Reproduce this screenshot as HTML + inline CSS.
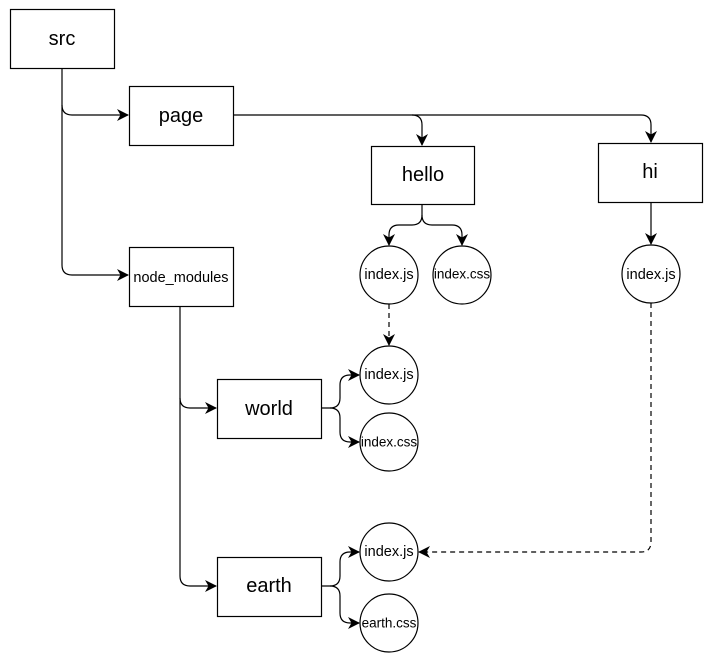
<!DOCTYPE html>
<html><head><meta charset="utf-8"><style>
html,body{margin:0;padding:0;background:#fff;}
svg{display:block;}
text{font-family:"Liberation Sans",Arial,sans-serif;fill:#000;text-anchor:middle;dominant-baseline:central;}
</style></head><body>
<svg width="714" height="664" viewBox="0 0 714 664" xmlns="http://www.w3.org/2000/svg">
<defs>
<marker id="a" markerWidth="12" markerHeight="12" refX="11" refY="6" orient="auto" markerUnits="userSpaceOnUse">
<path d="M0,0 L12,6 L0,12 L3.5,6 Z" fill="#000"/>
</marker>
</defs>
<g fill="none" stroke="#000" stroke-width="1.2">
<path d="M62 68 V105 Q62 115 72 115 H128" marker-end="url(#a)"/>
<path d="M62 105 V265 Q62 275 72 275 H128" marker-end="url(#a)"/>
<path d="M233 115 H412 Q422 115 422 125 V145" marker-end="url(#a)"/>
<path d="M412 115 H641 Q651 115 651 125 V142" marker-end="url(#a)"/>
<path d="M422 204 V215 Q422 225 412 225 H399 Q389 225 389 235 V245" marker-end="url(#a)"/>
<path d="M422 215 Q422 225 432 225 H452 Q462 225 462 235 V245" marker-end="url(#a)"/>
<path d="M651 202 V244" marker-end="url(#a)"/>
<path d="M180 306 V398 Q180 408 190 408 H216" marker-end="url(#a)"/>
<path d="M180 398 V576 Q180 586 190 586 H216" marker-end="url(#a)"/>
<path d="M322 408 H330 Q340 408 340 398 V385 Q340 375 350 375 H359" marker-end="url(#a)"/>
<path d="M330 408 Q340 408 340 418 V432 Q340 442 350 442 H359" marker-end="url(#a)"/>
<path d="M322 586 H330 Q340 586 340 576 V562 Q340 552 350 552 H359" marker-end="url(#a)"/>
<path d="M330 586 Q340 586 340 596 V613 Q340 623 350 623 H359" marker-end="url(#a)"/>
<path d="M389 304 V345" stroke-dasharray="5,4" marker-end="url(#a)"/>
<path d="M651 303 V542 Q651 552 641 552 H419" stroke-dasharray="5,4" marker-end="url(#a)"/>
</g>
<g fill="#fff" stroke="#000" stroke-width="1.2">
<rect x="10.5" y="9.5" width="104" height="59"/>
<rect x="129.5" y="86.5" width="104" height="59"/>
<rect x="129.5" y="247.5" width="104" height="59"/>
<rect x="371.5" y="146.5" width="103" height="58"/>
<rect x="598.5" y="143.5" width="104" height="59"/>
<rect x="217.5" y="379.5" width="104" height="59"/>
<rect x="217.5" y="557.5" width="104" height="59"/>
<circle cx="389" cy="275" r="29"/>
<circle cx="462" cy="275" r="29"/>
<circle cx="651" cy="274" r="29"/>
<circle cx="389" cy="375" r="29"/>
<circle cx="389" cy="442" r="29"/>
<circle cx="389" cy="552" r="29"/>
<circle cx="389" cy="623" r="29"/>
</g>
<g font-size="20">
<text x="62" y="39">src</text>
<text x="181" y="116">page</text>
<text x="423" y="175">hello</text>
<text x="650" y="172">hi</text>
<text x="269" y="409">world</text>
<text x="269" y="586">earth</text>
</g>
<g font-size="14.5">
<text x="181" y="278">node_modules</text>
<text x="389" y="275">index.js</text>
<text x="462" y="274" font-size="13.5">index.css</text>
<text x="651" y="275">index.js</text>
<text x="389" y="375">index.js</text>
<text x="389" y="442" font-size="13.5">index.css</text>
<text x="389" y="552">index.js</text>
<text x="389" y="623" font-size="13.5">earth.css</text>
</g>
</svg>
</body></html>
